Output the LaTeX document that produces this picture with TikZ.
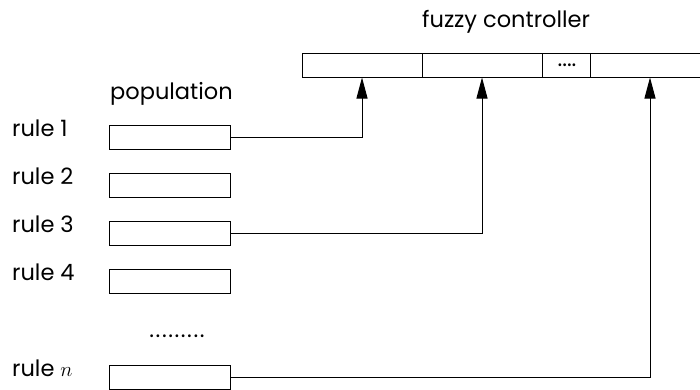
\documentclass[tikz,border=0pt]{standalone}
\usepackage{fontspec}
\setmainfont{Poppins}
\usepackage{tikz}
\usetikzlibrary{arrows.meta,positioning}

\tikzset{
  rulebox/.style={draw, line width=1pt, minimum width=121pt, minimum height=24pt, inner sep=0pt},
  cell/.style={draw, line width=1pt, minimum height=24pt, inner sep=0pt},
  feed/.style={line width=1pt, -{Triangle[length=21pt,width=11pt]}},
  lbl/.style={anchor=base west, inner sep=0pt, font=\fontsize{22.5}{26}\selectfont}
}

\begin{document}
\begin{tikzpicture}[x=1pt,y=-1pt]
    \useasboundingbox (0,0) rectangle (700,389);

    % The fuzzy controller: a row of cells
    \node[cell, minimum width=120pt] (c1) at (362,65) {};
    \node[cell, minimum width=120pt] (c2) at (482,65) {};
    \node[cell, minimum width=48pt] (c3) at (566,65) {};
    \node[inner sep=0pt, font=\fontsize{22.5}{26}\selectfont, anchor=base] (cdots) at (567,66) {....};
    \node[cell, minimum width=120pt] (c4) at (650,65) {};
    \node[lbl] (ctl) at (422,27) {fuzzy controller};

    % The population of rules
    \node[lbl] (pop) at (110,99) {population};
    \foreach \i/\y in {1/137,2/185,3/233,4/281} {
        \node[rulebox] (r\i) at (169.5,\y) {};
        \node[lbl] (l\i) at (12,\y-1) {rule \i};
    }
    \node[lbl, anchor=base, font=\fontsize{22.5}{26}\selectfont\addfontfeatures{LetterSpace=7}] (rdots) at (177,337) {.........};
    \node[rulebox] (rn) at (169.5,377) {};
    \node[lbl] (ln) at (12,376) {rule $n$};

    % Rules feeding the controller
    \draw[feed] (r1.east) -| (c1.south);
    \draw[feed] (r3.east) -| (c2.south);
    \draw[feed] (rn.east) -| (c4.south);
\end{tikzpicture}
\end{document}
